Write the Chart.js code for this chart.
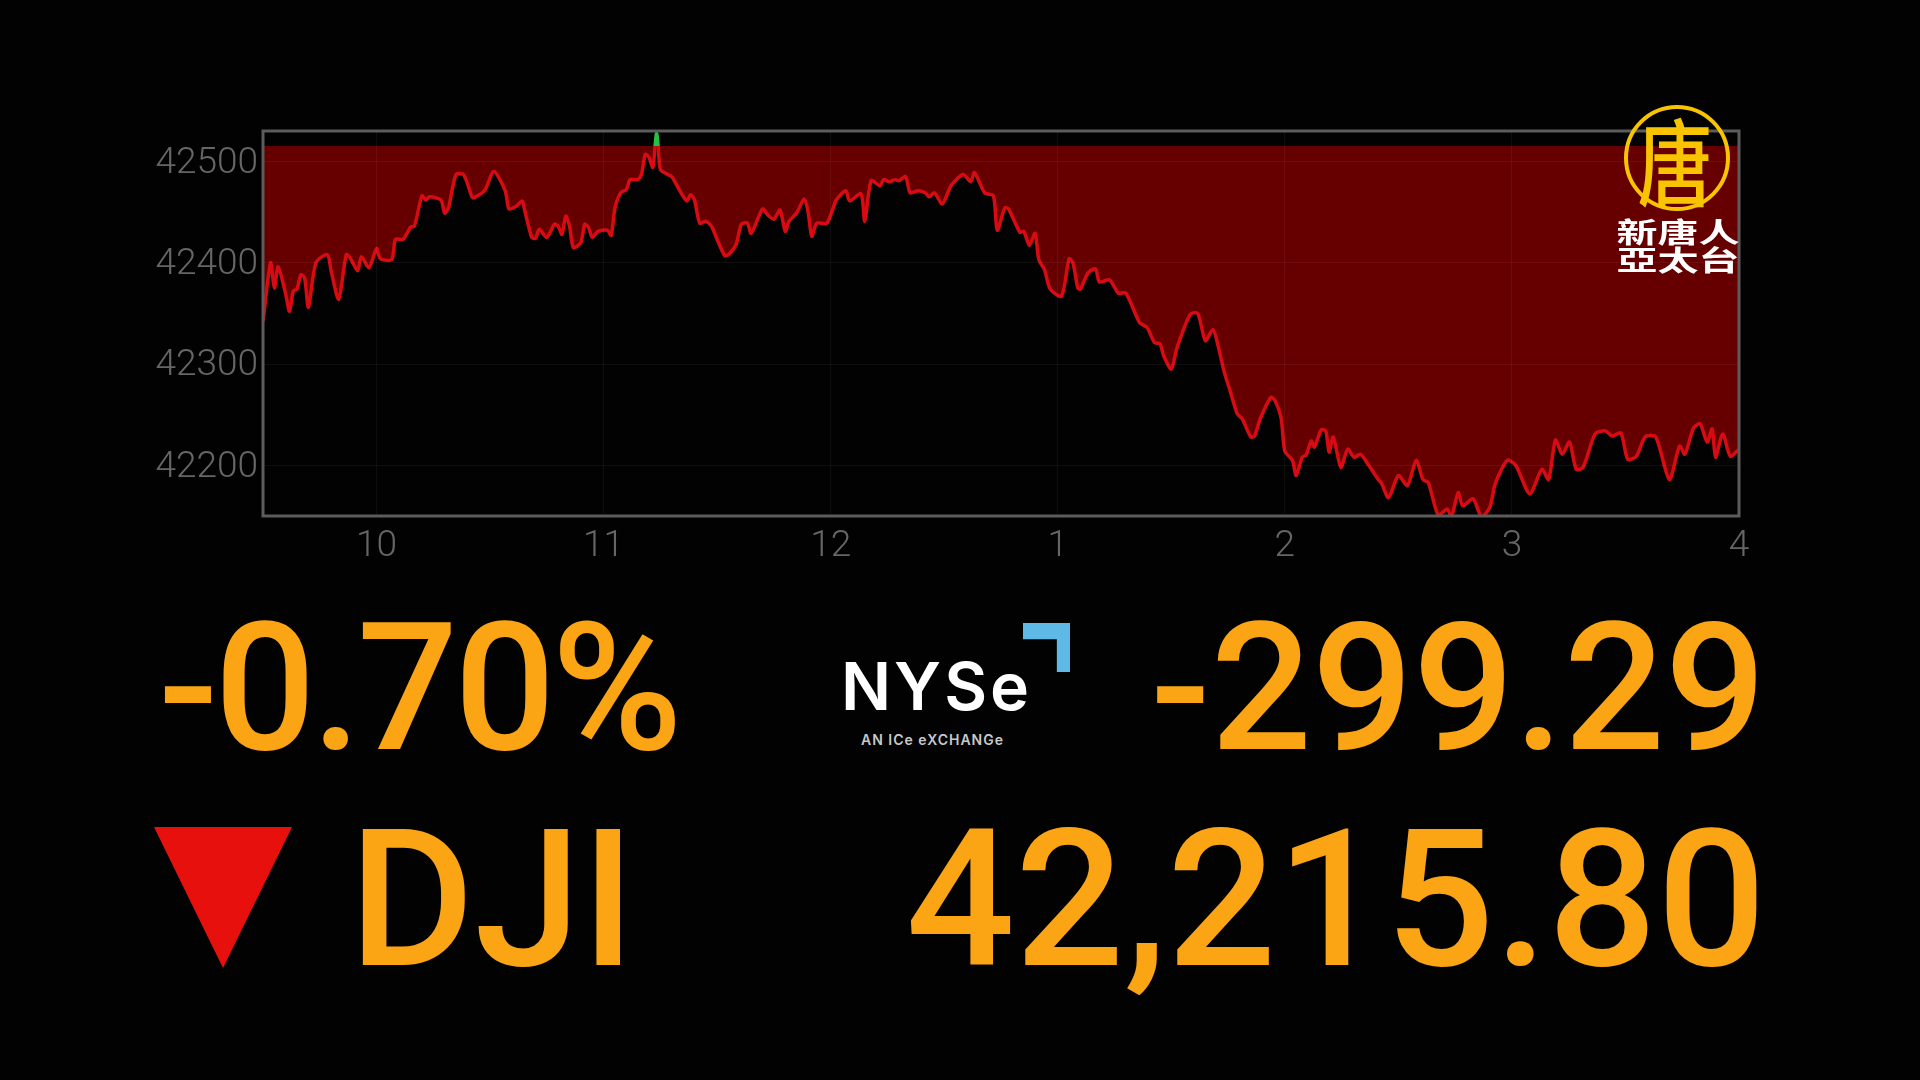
<!DOCTYPE html>
<html>
<head>
<meta charset="utf-8">
<title>DJI</title>
<script src="https://cdn.jsdelivr.net/npm/chart.js@4"></script>
<style>
  html, body { margin: 0; background: #020202; width: 1920px; height: 1080px; overflow: hidden; }
  #wrap { position: absolute; left: 0; top: 0; width: 1920px; height: 600px; }
  .big { position: absolute; color: #fba414; font-family: Roboto, sans-serif; font-weight: 500; font-size: 178px; line-height: 1; white-space: nowrap; }
  .row2 { font-size: 192px; }
  #triangle { position: absolute; left: 154px; top: 827px; width: 138px; height: 141px; background: #e8100c; clip-path: polygon(0 0, 100% 0, 50% 100%); }
  #nyse { position: absolute; left: 841px; top: 653px; color: #fff; font: 600 66px Inter, sans-serif; letter-spacing: 3px; line-height: 1; }
  #ice { position: absolute; left: 861px; top: 731px; color: #c8c8c8; font: 600 14px Inter, sans-serif; letter-spacing: 1px; }
  #chevron { position: absolute; left: 1023px; top: 623px; width: 47px; height: 49px; background: #5fb9e6; clip-path: polygon(0 0, 100% 0, 100% 100%, 72% 100%, 72% 33%, 0 33%); }
  #ring { position: absolute; left: 1624px; top: 105px; width: 98px; height: 98px; border: 4px solid #f8c400; border-radius: 50%; }
  #tang { position: absolute; left: 1622px; top: 100px; width: 106px; text-align: center; color: #f8c400; font: 500 94px/116px "Noto Sans CJK TC", sans-serif; transform: scaleX(0.8); }
  .logo { position: absolute; left: 1608px; width: 140px; text-align: center; color: #fff; font: 700 41px/41px "Noto Sans CJK TC", sans-serif; white-space: nowrap; transform: scaleY(0.68); }
</style>
</head>
<body>
<div id="wrap"><canvas id="dowChart" width="1920" height="600"></canvas></div>

<div class="big" id="pct" style="left:158px;top:599px;letter-spacing:-4px;">-0.70%</div>
<div class="big" id="chg" style="right:154px;top:599px;">-299.29</div>
<div id="triangle"></div>
<div class="big row2" id="idx" style="left:349px;top:804px;">DJI</div>
<div class="big row2" id="last" style="right:154px;top:804px;">42,215.80</div>

<div id="chevron"></div>
<div id="nyse">NYSe</div>
<div id="ice">AN ICe eXCHANGe</div>

<div id="ring"></div>
<div id="tang">唐</div>
<div class="logo" style="top:211px;">新唐人</div>
<div class="logo" style="top:239px;">亞太台</div>

<script>
// minutes after the 9:30 open
const minutes = [
  0, 2, 3, 4, 6, 7, 8, 9, 10, 11, 12, 14, 17, 18, 20, 22, 23, 25, 26, 28,
  30, 31, 34, 35, 37, 39, 40, 42, 43, 44, 47, 48, 49, 51, 53, 55, 55.5, 58.5, 61, 64,
  65, 67, 68.5, 69, 71, 72, 73, 75, 77, 78, 79, 80, 81, 82, 84, 85, 86, 87, 88.5, 91,
  92, 93, 94.5, 96, 97, 99, 100, 101, 102, 103, 103.6, 104, 104.4, 105, 106.5, 108, 110, 112, 113, 114,
  115.4, 117, 118.5, 120, 122, 123, 125, 126.4, 128, 129, 132, 133.4, 135, 136.6, 138, 139, 141, 143, 144, 145,
  146.3, 149, 151.5, 154, 155, 158, 159, 160.7, 163, 164, 165.5, 167, 168, 169.8, 171, 173, 175, 176, 177.4, 179.5,
  181.8, 185, 187, 188, 190.7, 193, 194, 196, 197, 200, 201, 202.5, 204, 205, 206.5, 208, 211, 213, 214, 215.3,
  216, 218, 220, 221, 223.7, 226, 228, 231.6, 233.6, 235.6, 237, 238, 240, 241.5, 245, 247, 249, 251, 252.3, 254,
  255.5, 257.4, 258.7, 261, 262, 263.5, 266.3, 267.4, 269, 270, 272, 273, 274.6, 275.6, 277, 277.8, 279.6, 280.8, 281.7, 282.8,
  284.8, 286.6, 288.3, 290, 292, 294.7, 295.6, 297.4, 300, 302.4, 304.7, 306.5, 307.9, 310.6, 312.9, 314, 315.8, 317, 319.7, 322,
  324.2, 325.6, 328.8, 331, 334.7, 337.9, 339.7, 341.5, 343.3, 345.2, 347, 348.8, 352, 354.7, 356.5, 358.8, 360.6, 362.9, 365.2, 368,
  371.6, 374.3, 375.7, 378, 379.7, 381.6, 382.9, 383.8, 385.7, 387.7, 390
];
const dowValues = [
  42342, 42400, 42375, 42396, 42369, 42352, 42372, 42374, 42388, 42385, 42356, 42400, 42408, 42392, 42364, 42408, 42405, 42392, 42406, 42395,
  42414, 42404, 42403, 42423, 42423, 42435, 42436, 42466, 42462, 42465, 42462, 42449, 42454, 42487, 42487, 42467, 42464, 42471, 42490, 42471,
  42453, 42456, 42461, 42454, 42425, 42424, 42433, 42425, 42438, 42436, 42428, 42446, 42436, 42415, 42420, 42438, 42435, 42425, 42431, 42432,
  42427, 42454, 42469, 42472, 42482, 42482, 42487, 42507, 42504, 42494, 42515.09, 42528, 42515.09, 42492, 42488, 42485, 42472, 42461, 42467, 42462,
  42439, 42441, 42436, 42423, 42407, 42408, 42418, 42438, 42439, 42429, 42453, 42447, 42443, 42452, 42431, 42441, 42449, 42463, 42451, 42426,
  42439, 42439, 42462, 42471, 42461, 42468, 42441, 42481, 42476, 42482, 42480, 42482, 42481, 42485, 42469, 42471, 42469, 42465, 42469, 42458,
  42476, 42487, 42480, 42489, 42469, 42466, 42432, 42454, 42453, 42430, 42431, 42417, 42429, 42403, 42393, 42374, 42367, 42404, 42400, 42375,
  42374, 42390, 42394, 42381, 42383, 42370, 42370, 42341, 42336, 42321, 42320, 42308, 42295, 42316, 42349, 42350, 42323, 42334, 42319, 42292,
  42274, 42251, 42246, 42228, 42229, 42246, 42267, 42264, 42247, 42214, 42205, 42190, 42208, 42210, 42224, 42218, 42235, 42234, 42213, 42228,
  42198, 42216, 42208, 42211, 42201, 42186, 42182, 42168, 42190, 42180, 42205, 42186, 42183, 42150, 42157, 42149, 42173, 42160, 42167, 42149,
  42159, 42182, 42205, 42200, 42172, 42196, 42186, 42225, 42211, 42223, 42196, 42198, 42231, 42234, 42229, 42232, 42206, 42209, 42228, 42228,
  42186, 42219, 42211, 42237, 42241, 42223, 42236, 42208, 42231, 42209, 42215.8
];
const prevClose = 42515.09;
const yTicks = [42200, 42300, 42400, 42500];
const xTickMinutes = [30, 90, 150, 210, 270, 330, 390];
const xTickLabels = ["10", "11", "12", "1", "2", "3", "4"];

const frame = {
  id: "frame",
  afterDraw(chart) {
    const { ctx, chartArea: a } = chart;
    ctx.save();
    ctx.strokeStyle = "#5c5c5c";
    ctx.lineWidth = 3;
    ctx.strokeRect(a.left, a.top, a.right - a.left, a.bottom - a.top);
    ctx.restore();
  },
};

new Chart(document.getElementById("dowChart"), {
  type: "line",
  data: {
    datasets: [
      {
        label: "DJI",
        data: minutes.map((m, i) => ({ x: m, y: dowValues[i] })),
        borderColor: "#d80a12",
        borderWidth: 3.5,
        pointRadius: 0,
        tension: 0.25,
        fill: { target: { value: prevClose }, above: "#27a83a", below: "#660000" },
        segment: {
          borderColor: (c) =>
            c.p0.parsed.y >= prevClose && c.p1.parsed.y >= prevClose ? "#27c040" : undefined,
        },
      },
    ],
  },
  plugins: [frame],
  options: {
    responsive: false,
    animation: false,
    layout: { padding: { top: 131, right: 181, left: 0, bottom: 0 } },
    plugins: { legend: { display: false }, tooltip: { enabled: false } },
    scales: {
      x: {
        type: "linear",
        min: 0,
        max: 390,
        afterBuildTicks: (s) => { s.ticks = xTickMinutes.map((v) => ({ value: v })); },
        afterFit: (s) => { s.height = 84; },
        border: { display: false },
        grid: { color: "rgba(255,255,255,0.05)", z: 1, drawTicks: false },
        ticks: {
          color: "#666666",
          padding: 9,
          maxRotation: 0,
          autoSkip: false,
          font: { family: "Roboto", size: 37, weight: 300 },
          callback: (v) => xTickLabels[xTickMinutes.indexOf(v)],
        },
      },
      y: {
        min: 42150,
        max: 42530,
        afterBuildTicks: (s) => { s.ticks = yTicks.map((v) => ({ value: v })); },
        afterFit: (s) => { s.width = 263; },
        border: { display: false },
        grid: { color: "rgba(255,255,255,0.05)", z: 1, drawTicks: false },
        ticks: {
          color: "#666666",
          padding: 5,
          labelOffset: 2,
          font: { family: "Roboto", size: 37, weight: 300 },
          callback: (v) => String(v),
        },
      },
    },
  },
});
</script>
</body>
</html>
